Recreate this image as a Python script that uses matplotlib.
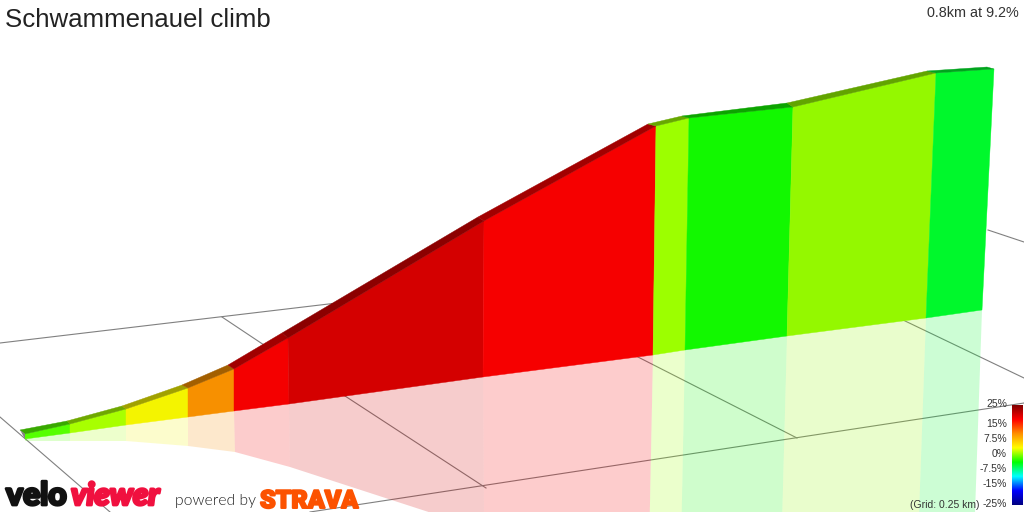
import numpy as np
import matplotlib
matplotlib.use('Agg')
import matplotlib.pyplot as plt
import matplotlib.patheffects as pe
from matplotlib.colors import LinearSegmentedColormap, to_rgb

# profile outline (screen pixels)
top_x = [25, 70, 126, 188, 234, 288, 484, 656, 689, 793, 936, 994]
top_y = [434, 424, 409, 388, 369, 338, 221, 126, 118, 107, 73, 69]
back_x = [20, 67, 122, 182, 228, 282, 478, 648, 682, 787, 927, 987]
back_y = [430, 421, 406, 385, 365, 333, 217, 124, 116, 103, 71, 67]
base_x = [25, 70, 126, 188, 234, 289, 483, 653, 685, 787, 926, 982]
base_y = [439, 433, 425, 417, 411, 404, 377, 355, 350, 336, 318, 310]
mirror_x = [25, 70, 126, 188, 235, 290, 484, 648, 680, 780, 916, 972]
mirror_y = [441, 441, 441, 446, 452, 467, 530, 600, 600, 600, 600, 600]

seg_colors = ['#55ff00', '#a8ff00', '#f4f400', '#f79000', '#f40000', '#d40000',
              '#f60000', '#9cff00', '#12f800', '#94f800', '#00f82c']

# grid lines
grid_lines = [
    ([0, 337], [343, 303]),
    ([222, 264], [317, 345]),
    ([988, 1024], [230, 242]),
    ([903, 1024], [320, 378]),
    ([310, 1024], [512, 403]),
    ([0, 110], [417, 512]),
    ([345, 486], [396, 488]),
    ([636, 797], [356, 438]),
]

legend_labels = ['25%', '15%', '7.5%', '0%', '-7.5%', '-15%', '-25%']
legend_y = [404, 424, 439, 454, 469, 484, 504]
legend_colors = ['#800000', '#ff0000', '#ff9000', '#ffff00', '#00ff00', '#00ffff', '#0000ff', '#000080']

plt.rcParams['font.family'] = ['Liberation Sans', 'DejaVu Sans']

fig = plt.figure(figsize=(10.24, 5.12), dpi=100)
ax = fig.add_axes([0, 0, 1, 1])
ax.set_xlim(0, 1024)
ax.set_ylim(512, 0)
ax.axis('off')

for xs, ys in grid_lines:
    ax.plot(xs, ys, color='#808080', lw=0.8, zorder=1)

for i, c in enumerate(seg_colors):
    # reflection
    ax.fill([base_x[i], base_x[i + 1], mirror_x[i + 1], mirror_x[i]],
            [base_y[i], base_y[i + 1], mirror_y[i + 1], mirror_y[i]],
            color=c, alpha=0.2, lw=0, zorder=2)
    # wall
    ax.fill([top_x[i], top_x[i + 1], base_x[i + 1], base_x[i]],
            [top_y[i], top_y[i + 1], base_y[i + 1], base_y[i]],
            facecolor=c, edgecolor=c, lw=0.3, zorder=3)
    # road surface on top, darker
    dark = tuple(np.array(to_rgb(c)) * 0.66)
    ax.fill([top_x[i], top_x[i + 1], back_x[i + 1], back_x[i]],
            [top_y[i], top_y[i + 1], back_y[i + 1], back_y[i]],
            facecolor=dark, edgecolor=dark, lw=0.3, zorder=4)

# start cap
ax.fill([back_x[0], top_x[0], base_x[0]], [back_y[0], top_y[0], base_y[0]], color='#808080', lw=0, zorder=4)

ax.text(5, 20, 'Schwammenauel climb', fontsize=18.6, color='#222222', ha='left', va='center')
ax.text(1019, 13, '0.8km at 9.2%', fontsize=10.4, color='#333333', ha='right', va='center')

# colour scale
cmap = LinearSegmentedColormap.from_list('grade', legend_colors)
ax.imshow(np.linspace(0, 1, 256).reshape(-1, 1), cmap=cmap, extent=[1012, 1023, 505, 405],
          aspect='auto', zorder=5)
ax.set_xlim(0, 1024)
ax.set_ylim(512, 0)
for lab, y in zip(legend_labels, legend_y):
    ax.text(1007, y, lab, fontsize=7.5, color='#333333', ha='right', va='center', zorder=6)
ax.text(980, 505, '(Grid: 0.25 km)', fontsize=7.5, color='#333333', ha='right', va='center', zorder=6)

# logos
thick = [pe.withStroke(linewidth=2.0, foreground='#111111')]
ax.text(6, 505, 'velo', fontsize=23, fontweight=900, family='Lato', color='#111111',
        ha='left', va='baseline', zorder=6, path_effects=thick)
thick_red = [pe.withStroke(linewidth=2.0, foreground='#f0103f')]
ax.text(71, 505, 'viewer', fontsize=22.5, fontweight=900, style='italic', family='Lato', color='#f0103f',
        ha='left', va='baseline', zorder=6, path_effects=thick_red)
ax.text(175, 501, 'powered by', fontsize=11.3, fontweight=300, family='Lato', color='#222222',
        ha='left', va='center', zorder=6)
thick_or = [pe.withStroke(linewidth=1.4, foreground='#fc5200')]
ax.text(260, 501, 'STRAVA', fontsize=18, fontweight=900, family='Roboto', color='#fc5200',
        ha='left', va='center', zorder=6, path_effects=thick_or)

fig.savefig('out.png', dpi=100)
